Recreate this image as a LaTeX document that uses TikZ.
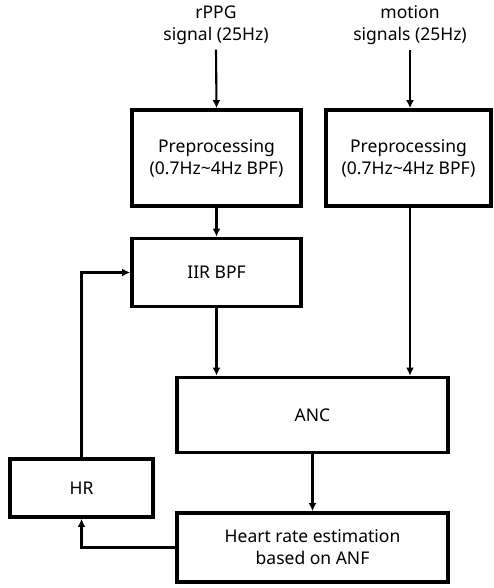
\documentclass[tikz,border=0pt]{standalone}
\usepackage{fontspec}
\setmainfont{Noto Sans}
\usepackage{tikz}
\usetikzlibrary{arrows.meta}

\begin{document}
\begin{tikzpicture}[
  x=1pt,y=-1pt,
  >={Latex[length=8pt,width=8pt]},
  block/.style={draw,line width=3.8pt,rectangle,inner sep=0pt,
    align=center,font=\fontsize{17.5}{22}\selectfont},
  label/.style={align=center,inner sep=0pt,font=\fontsize{17.5}{22}\selectfont},
  flow/.style={->,line width=2.1pt}
]
  \useasboundingbox (0,0) rectangle (493,588);

  % Inputs at the top of the chart.
  \node[label] (rppg) at (216,25) {rPPG\\signal (25Hz)};
  \node[label] (motion) at (410,25) {motion\\signals (25Hz)};

  % Blocks, sized from the line centres.
  \node[block,minimum width=169pt,minimum height=96pt] (pre1) at (216.5,158)
    {Preprocessing\\(0.7Hz\textasciitilde 4Hz BPF)};
  \node[block,minimum width=165pt,minimum height=96pt] (pre2) at (408.5,158)
    {Preprocessing\\(0.7Hz\textasciitilde 4Hz BPF)};
  \node[block,minimum width=169pt,minimum height=68pt] (iir) at (216.5,272.5)
    {IIR BPF};
  \node[block,minimum width=271pt,minimum height=75pt] (anc) at (312.5,415)
    {ANC};
  \node[block,minimum width=143pt,minimum height=58pt] (hr) at (81.5,488)
    {HR};
  \node[block,minimum width=271pt,minimum height=69pt] (hre) at (312.5,547.5)
    {Heart rate estimation\\based on ANF};

  % Forward path.
  \draw[flow] ([yshift=-5pt]rppg.south) -- (pre1.north);
  \draw[flow] ([yshift=-5pt]motion.south) -- (motion.south |- pre2.north);
  \draw[flow] (pre1) -- (iir);
  \draw[flow] (iir.south) -- (iir.south |- anc.north);
  \draw[flow] (motion.south |- pre2.south) -- (motion.south |- anc.north);
  \draw[flow] (anc) -- (hre);

  % Feedback of the heart rate into the IIR filter.
  \draw[flow] (hre.west) -| (hr.south);
  \draw[flow] (hr.north) |- (iir.west);
\end{tikzpicture}
\end{document}
